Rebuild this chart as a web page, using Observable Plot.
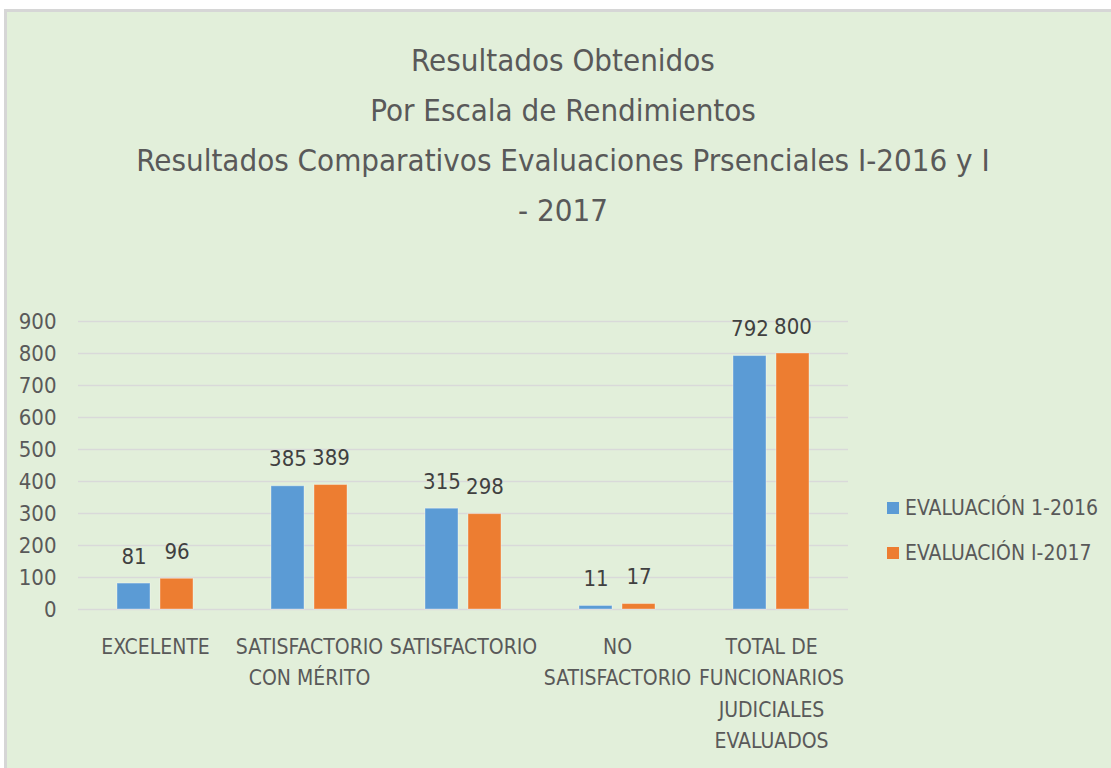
<!DOCTYPE html>
<html>
<head>
<meta charset="utf-8">
<script src="https://cdn.jsdelivr.net/npm/d3@7"></script>
<script src="https://cdn.jsdelivr.net/npm/@observablehq/plot@0.6"></script>
<style>
  html, body { margin: 0; padding: 0; background: #ffffff; width: 1111px; height: 768px; overflow: hidden; }
  #frame {
    position: absolute; left: 4px; top: 9px; width: 1107px; height: 759px;
    background: #e2efda; border-left: 3px solid #d6d6d6; border-top: 3px solid #d6d6d6;
    box-sizing: border-box;
    font-family: "Liberation Sans Narrow", "Arial Narrow", "DejaVu Sans Condensed", sans-serif;
    color: #595959;
  }
  #title { position: absolute; left: 56px; width: 1000px; top: 23px; text-align: center; font-size: 31px; line-height: 50px; }
  #chart { position: absolute; left: -7px; top: 288px; }
  .leg { position: absolute; left: 880px; font-size: 21px; white-space: nowrap; display: flex; align-items: center; }
  .sw { width: 12px; height: 12px; margin-right: 6px; display: inline-block; }
</style>
</head>
<body>
<div id="frame">
  <div id="title"></div>
  <div id="chart"></div>
  <div id="legend"></div>
</div>
<script>
const titleLines = [
  "Resultados Obtenidos",
  "Por Escala de Rendimientos",
  "Resultados Comparativos Evaluaciones Prsenciales I-2016 y I",
  "- 2017"
];
const categories = ["EXCELENTE", "SATISFACTORIO CON MÉRITO", "SATISFACTORIO", "NO SATISFACTORIO", "TOTAL DE FUNCIONARIOS JUDICIALES EVALUADOS"];
const categoryLabels = ["EXCELENTE", "SATISFACTORIO\nCON MÉRITO", "SATISFACTORIO", "NO\nSATISFACTORIO", "TOTAL DE\nFUNCIONARIOS\nJUDICIALES\nEVALUADOS"];
const series = ["EVALUACIÓN 1-2016", "EVALUACIÓN I-2017"];
const values2016 = [81, 385, 315, 11, 792];
const values2017 = [96, 389, 298, 17, 800];
const yTicks = [0, 100, 200, 300, 400, 500, 600, 700, 800, 900];
const colors = ["#5b9bd5", "#ed7d31"];

const FONT = '"Liberation Sans Narrow", "Arial Narrow", "DejaVu Sans Condensed", sans-serif';

document.getElementById("title").innerHTML = titleLines.map(t => `<div>${t}</div>`).join("");

const data = [];
categories.forEach((c, i) => {
  data.push({category: c, series: series[0], value: values2016[i]});
  data.push({category: c, series: series[1], value: values2017[i]});
});

const chart = Plot.plot({
  width: 880,
  height: 468,
  marginLeft: 77,
  marginRight: 32,
  marginTop: 21,
  marginBottom: 159,
  style: {background: "transparent", fontFamily: FONT, color: "#595959", overflow: "visible"},
  fx: {domain: categories, padding: 0, label: null, axis: null},
  x: {domain: series, axis: null, paddingInner: 0.227, paddingOuter: 0.864},
  y: {domain: [0, 900], label: null},
  color: {domain: series, range: colors},
  marks: [
    Plot.ruleY(yTicks, {stroke: "#d9d9d9", strokeWidth: 1.5}),
    Plot.axisY({ticks: yTicks, tickSize: 0, tickPadding: 22, fontSize: 22, label: null, fill: "#595959"}),
    Plot.barY(data, {fx: "category", x: "series", y: "value", fill: "series", stroke: "#ffffff", strokeOpacity: 0.35, strokeWidth: 1}),
    Plot.text(data, {fx: "category", x: "series", y: "value", text: d => String(d.value), dy: -20, lineAnchor: "bottom", fontSize: 22, fill: "#404040"}),
    Plot.axisFx({anchor: "bottom", tickSize: 0, tickPadding: 22, fontSize: 21, lineHeight: 1.5, label: null, fill: "#595959",
      tickFormat: d => categoryLabels[categories.indexOf(d)]})
  ]
});
document.getElementById("chart").appendChild(chart);

document.getElementById("legend").innerHTML = series.map((s, i) =>
  `<div class="leg" style="top:${484 + i * 45}px"><span class="sw" style="background:${colors[i]}"></span>${s}</div>`
).join("");
</script>
</body>
</html>
